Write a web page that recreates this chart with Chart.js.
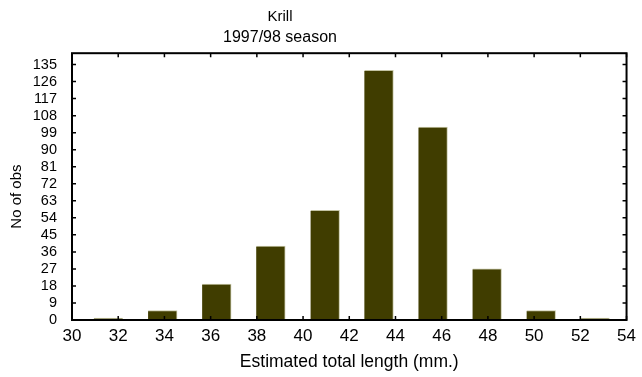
<!DOCTYPE html>
<html>
<head>
<meta charset="utf-8">
<script src="https://cdn.jsdelivr.net/npm/chart.js@4/dist/chart.umd.min.js"></script>
<style>
  html, body { margin: 0; padding: 0; background: #fff; }
  #wrap { width: 642px; height: 377px; }
</style>
</head>
<body>
<div id="wrap"><canvas id="krillChart"></canvas></div>
<script>
// bin centres (mm) and counts
const binCentres = [31.57, 33.92, 36.26, 38.6, 40.95, 43.28, 45.62, 47.96, 50.3, 52.63];
const counts = [1, 5, 19, 39, 58, 132, 102, 27, 5, 1];
const xTicks = [30, 32, 34, 36, 38, 40, 42, 44, 46, 48, 50, 52, 54];
const yTicks = [0, 9, 18, 27, 36, 45, 54, 63, 72, 81, 90, 99, 108, 117, 126, 135];

const FONT = 'Liberation Sans, Arial, sans-serif';

// titles in the original sit left of the canvas centre
const titleShift = {
  id: 'titleShift',
  afterLayout(chart) {
    chart.boxes.forEach(b => {
      if (b.options && (b.options.text === 'Krill' || b.options.text === '1997/98 season')) {
        b.left = 0;
        b.right = 560;
        b.width = 560;
      }
    });
  }
};

// box round the plot with tick marks pointing inwards, like the original
const frameTicks = {
  id: 'frameTicks',
  afterDatasetsDraw(chart) {
    const { ctx, chartArea: a, scales: { x, y } } = chart;
    const len = 4;
    ctx.save();
    ctx.strokeStyle = '#000';
    ctx.lineWidth = 1.5;
    xTicks.forEach(v => {
      const px = x.getPixelForValue(v);
      ctx.beginPath();
      ctx.moveTo(px, a.bottom); ctx.lineTo(px, a.bottom - len);
      ctx.moveTo(px, a.top); ctx.lineTo(px, a.top + len);
      ctx.stroke();
    });
    yTicks.forEach(v => {
      const py = y.getPixelForValue(v);
      ctx.beginPath();
      ctx.moveTo(a.left, py); ctx.lineTo(a.left + len, py);
      ctx.moveTo(a.right, py); ctx.lineTo(a.right - len, py);
      ctx.stroke();
    });
    ctx.lineWidth = 2;
    ctx.strokeRect(a.left, a.top, a.right - a.left, a.bottom - a.top);

    // y axis title, a little below the middle of the plot as in the original
    ctx.translate(17, (a.top + a.bottom) / 2 + 10);
    ctx.rotate(-Math.PI / 2);
    ctx.fillStyle = '#000';
    ctx.font = '15px ' + FONT;
    ctx.textAlign = 'center';
    ctx.textBaseline = 'middle';
    ctx.fillText('No of obs', 0, 0);
    ctx.restore();
  }
};

const chart = new Chart(document.getElementById('krillChart'), {
  type: 'bar',
  data: {
    datasets: [{
      data: binCentres.map((c, i) => ({ x: c, y: counts[i] })),
      backgroundColor: '#403d00',
      borderColor: '#c4c4a4',
      borderWidth: { top: 1, right: 1, left: 0, bottom: 0 },
      borderSkipped: false,
      barThickness: 29
    }]
  },
  options: {
    responsive: true,
    maintainAspectRatio: false,
    animation: false,
    layout: { padding: { left: 0, right: 11, top: 0, bottom: 0 } },
    plugins: {
      legend: { display: false },
      tooltip: { enabled: false },
      title: {
        display: true,
        text: 'Krill',
        color: '#000',
        font: { family: FONT, size: 15, weight: 'normal' },
        padding: { top: 8, bottom: 2 }
      },
      subtitle: {
        display: true,
        text: '1997/98 season',
        color: '#000',
        font: { family: FONT, size: 16, weight: 'normal' },
        padding: { top: 0, bottom: 6 }
      }
    },
    scales: {
      x: {
        type: 'linear',
        offset: false,
        min: 30,
        max: 54,
        grid: { display: false, drawTicks: false, offset: false },
        border: { display: false },
        afterBuildTicks: s => { s.ticks = xTicks.map(v => ({ value: v })); },
        afterFit: s => { s.height = 57; },
        ticks: {
          color: '#000',
          padding: 6,
          maxRotation: 0,
          autoSkip: false,
          font: { family: FONT, size: 17 }
        },
        title: {
          display: true,
          text: 'Estimated total length (mm.)',
          color: '#000',
          font: { family: FONT, size: 17.5 },
          padding: { top: 0, bottom: 4 }
        }
      },
      y: {
        min: 0,
        max: 141,
        grid: { display: false, drawTicks: false },
        border: { display: false },
        afterBuildTicks: s => { s.ticks = yTicks.map(v => ({ value: v })); },
        afterFit: s => { s.width = 72; },
        ticks: {
          color: '#000',
          padding: 15,
          autoSkip: false,
          font: { family: FONT, size: 14.5 }
        }
      }
    }
  },
  plugins: [titleShift, frameTicks]
});
</script>
</body>
</html>
